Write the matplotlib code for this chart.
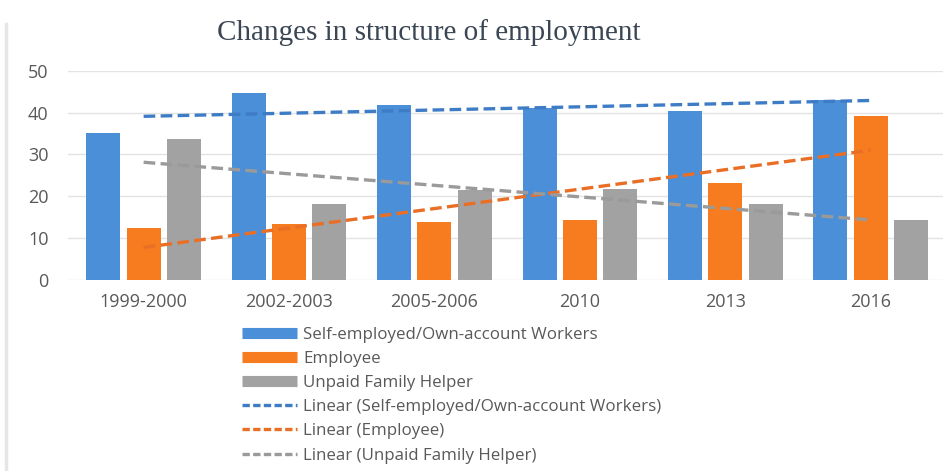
import matplotlib
matplotlib.use("Agg")
import matplotlib.pyplot as plt
from matplotlib.lines import Line2D
import numpy as np

# --- DATA ---
periods = ["1999-2000", "2002-2003", "2005-2006", "2010", "2013", "2016"]
self_employed = [35.0, 44.7, 41.8, 41.0, 40.3, 43.1]
employee = [12.5, 13.4, 13.9, 14.3, 23.1, 39.1]
unpaid_helper = [33.6, 18.1, 21.6, 21.7, 18.1, 14.3]
series_names = ["Self-employed/Own-account Workers", "Employee", "Unpaid Family Helper"]

# --- STYLE ---
BAR_COLORS = ["#4a8fd7", "#f77b1f", "#a2a2a2"]
TREND_COLORS = ["#3f7cc6", "#ea6f26", "#9a9a9a"]
TEXT_GRAY = "#595959"
SANS = ["Open Sans", "DejaVu Sans"]

fig = plt.figure(figsize=(9.5, 4.71), dpi=100)
ax = fig.add_axes([0.0716, 0.4055, 0.9214, 0.4445])

x = np.arange(len(periods))
pitch = 0.277
width = 0.234
all_series = [self_employed, employee, unpaid_helper]

for i, (vals, color) in enumerate(zip(all_series, BAR_COLORS)):
    ax.bar(x + (i - 1) * pitch, vals, width=width, color=color, zorder=2)

# linear trend lines (least squares over the category index)
for vals, color in zip(all_series, TREND_COLORS):
    slope, intercept = np.polyfit(x, vals, 1)
    ax.plot(x, slope * x + intercept, color=color, linestyle=(0, (3.5, 1.6)),
            linewidth=2.4, zorder=3)

ax.set_xlim(-0.52, 5.5)
ax.set_ylim(0, 50)
ax.set_yticks(range(0, 51, 10))
ax.set_xticks(x)
ax.set_xticklabels(periods)
ax.yaxis.grid(True, color="#e3e3e3", linewidth=1.0, zorder=0)
ax.set_axisbelow(True)
for side in ["top", "right", "left", "bottom"]:
    ax.spines[side].set_visible(False)
ax.tick_params(length=0, colors=TEXT_GRAY, labelsize=13, pad=9)
ax.tick_params(axis="y", pad=14)
for lbl in ax.get_xticklabels() + ax.get_yticklabels():
    lbl.set_family(SANS)

fig.text(0.451, 0.93, "Changes in structure of employment", ha="center", va="center",
         family=["Liberation Serif", "DejaVu Serif"], fontsize=21, color="#3b4654")

# legend: bar patches then trend lines
handles = [Line2D([0], [0], color=c, linewidth=8, solid_capstyle="butt") for c in BAR_COLORS]
handles += [Line2D([0], [0], color=c, linewidth=2.4, linestyle=(0, (2.2, 1.0))) for c in TREND_COLORS]
labels = series_names + [f"Linear ({n})" for n in series_names]
leg = fig.legend(handles, labels, loc="upper left", bbox_to_anchor=(0.255, 0.306),
                 frameon=False, prop={"family": SANS, "size": 12.2},
                 handlelength=3.25, handletextpad=0.35, labelspacing=0.48,
                 borderpad=0, borderaxespad=0)
for t in leg.get_texts():
    t.set_color(TEXT_GRAY)

# faint frame edge on the left
fig.add_artist(Line2D([0.006, 0.006], [0.0, 0.95], color="#e6e6e6", linewidth=2.5,
                      transform=fig.transFigure))

fig.savefig("out.png", dpi=100, facecolor="white")
